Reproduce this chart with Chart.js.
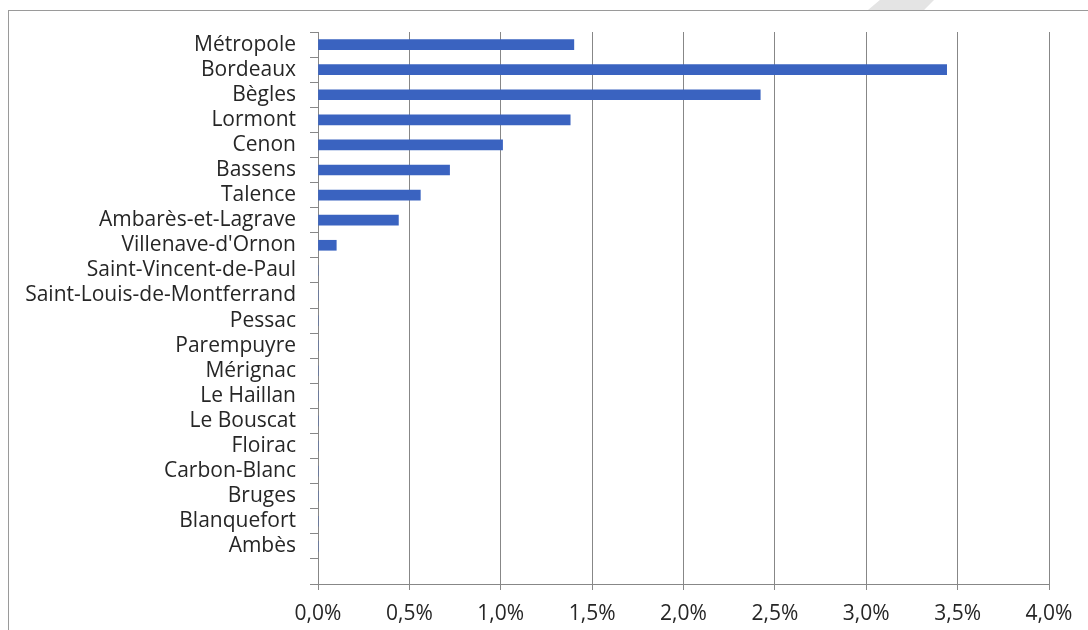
<!DOCTYPE html>
<html>
<head>
<meta charset="utf-8">
<script src="https://cdn.jsdelivr.net/npm/chart.js@4"></script>
<style>
  html, body { margin: 0; padding: 0; background: #fff; }
  body { width: 1088px; height: 630px; position: relative; overflow: hidden; }
  #frame {
    position: absolute; left: 8px; top: 10px; width: 1080px; height: 620px;
    border-left: 1px solid #9a9a9a; border-top: 1px solid #9a9a9a;
  }
  #mark {
    position: absolute; left: 868px; top: 0; width: 66px; height: 10px;
    background: #e4e4e4; clip-path: polygon(18% 0, 100% 0, 85% 100%, 0 100%);
  }
</style>
</head>
<body>
<div id="mark"></div>
<div id="frame"><canvas id="chart" width="1079" height="619"></canvas></div>
<script>
// communes, top to bottom (last slot left blank)
const communes = ['Métropole', 'Bordeaux', 'Bègles', 'Lormont', 'Cenon', 'Bassens', 'Talence',
  'Ambarès-et-Lagrave', "Villenave-d'Ornon", 'Saint-Vincent-de-Paul', 'Saint-Louis-de-Montferrand',
  'Pessac', 'Parempuyre', 'Mérignac', 'Le Haillan', 'Le Bouscat', 'Floirac', 'Carbon-Blanc',
  'Bruges', 'Blanquefort', 'Ambès', ''];
// share in percent
const taux = [1.40, 3.44, 2.42, 1.38, 1.01, 0.72, 0.56, 0.44, 0.10, 0, 0,
  0, 0, 0, 0, 0, 0, 0, 0, 0, 0, null];
const xMin = 0, xMax = 4, xStep = 0.5;

const fontFamily = "'Open Sans', sans-serif";
const textColor = '#262626';
const lineColor = '#878787';

const ctx = document.getElementById('chart').getContext('2d');
new Chart(ctx, {
  type: 'bar',
  data: {
    labels: communes,
    datasets: [{
      data: taux,
      backgroundColor: '#3a63c0',
      borderWidth: 0,
      barThickness: 10
    }]
  },
  options: {
    indexAxis: 'y',
    responsive: false,
    animation: false,
    layout: { padding: { top: 21, right: 39, bottom: 0, left: 0 } },
    plugins: { legend: { display: false }, tooltip: { enabled: false } },
    scales: {
      y: {
        afterFit: s => { s.width = 309; s.paddingTop = 0; s.paddingBottom = 0; },
        grid: { drawOnChartArea: false, drawTicks: true, tickLength: 8, color: lineColor },
        border: { color: lineColor },
        ticks: { color: textColor, font: { family: fontFamily, size: 21 }, padding: 14, autoSkip: false }
      },
      x: {
        min: xMin, max: xMax,
        afterFit: s => { s.height = 46; s.paddingLeft = 0; s.paddingRight = 0; },
        grid: { color: lineColor, tickLength: 6 },
        border: { color: lineColor },
        ticks: {
          stepSize: xStep,
          color: textColor,
          font: { family: fontFamily, size: 21 },
          padding: 11,
          maxRotation: 0,
          callback: v => v.toFixed(1).replace('.', ',') + '%'
        }
      }
    }
  }
});
</script>
</body>
</html>
